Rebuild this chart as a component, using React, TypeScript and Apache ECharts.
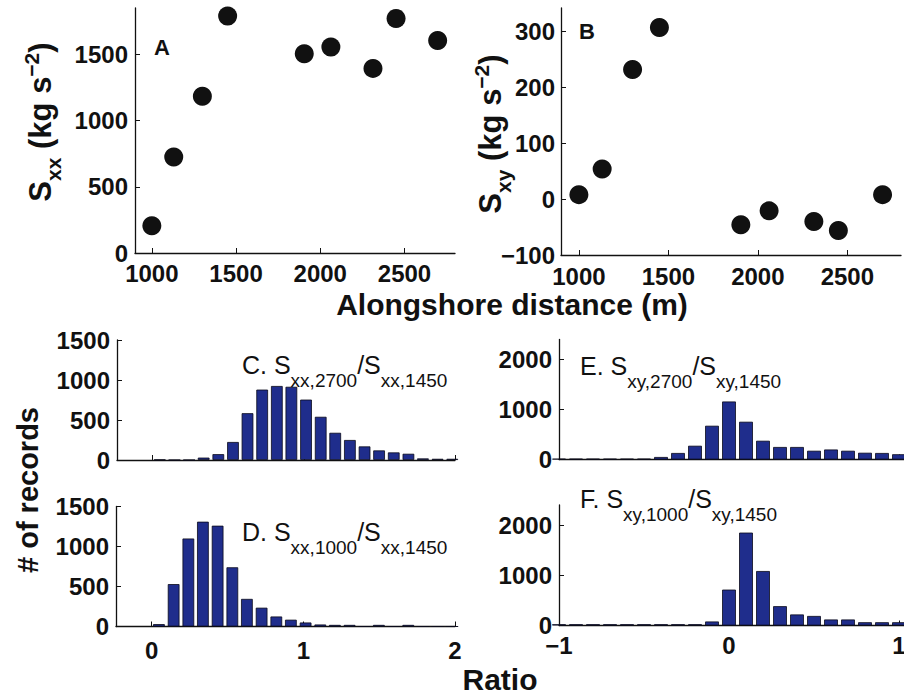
import React, { useEffect, useRef } from 'react';
import * as echarts from 'echarts';

// ---- data ----
const distance = [1000, 1130, 1300, 1450, 1905, 2063, 2313, 2450, 2697];
const sxx = [205, 725, 1184, 1790, 1505, 1555, 1394, 1770, 1604];
const sxy = [8, 54, 232, 307, -46, -21, -40, -56, 8];

const binsPositive = [0.048, 0.145, 0.242, 0.338, 0.435, 0.532, 0.628, 0.725, 0.822, 0.918, 1.015, 1.112, 1.208, 1.305, 1.402, 1.498, 1.595, 1.692, 1.788, 1.885, 1.982];
const countsC = [5, 0, 0, 30, 73, 225, 585, 880, 925, 915, 755, 540, 340, 250, 170, 120, 95, 78, 20, 15, 15];
const countsD = [30, 530, 1100, 1310, 1260, 740, 345, 235, 125, 85, 50, 25, 20, 20, 0, 20, 0, 20, 0, 0, 0];

const binsSigned = [-1.0, -0.9, -0.8, -0.7, -0.6, -0.5, -0.4, -0.3, -0.2, -0.1, 0.0, 0.1, 0.2, 0.3, 0.4, 0.5, 0.6, 0.7, 0.8, 0.9, 1.0];
const countsE = [15, 15, 15, 15, 15, 15, 50, 130, 275, 675, 1160, 755, 375, 250, 250, 175, 200, 175, 135, 130, 105];
const countsF = [25, 25, 25, 25, 25, 25, 25, 25, 25, 80, 715, 1850, 1085, 385, 220, 190, 120, 120, 65, 65, 65];

const xTicksDistance = [1000, 1500, 2000, 2500];
const yTicksSxx = [0, 500, 1000, 1500];
const yTicksSxy = [-100, 0, 100, 200, 300];
const yTicksHistLeft = [0, 500, 1000, 1500];
const yTicksHistRight = [0, 1000, 2000];
const xTicksRatioPos = [0, 1, 2];
const xTicksRatioSigned = [-1, 0, 1];

// ---- styling ----
const FONT = "'Liberation Sans', Arial, Helvetica, sans-serif";
const INK = '#111';
const BAR = '#1f2d8c';

function fmt(v: number) {
  return v < 0 ? '\u2212' + Math.abs(v) : String(v);
}

function axis(gridIndex: number, min: number, max: number, ticks: number[], showLabels: boolean, margin: number) {
  return {
    type: 'value',
    gridIndex,
    min,
    max,
    axisLine: { show: true, onZero: false, lineStyle: { color: INK, width: 1.3 } },
    axisTick: { show: true, inside: true, length: 5, customValues: ticks, lineStyle: { color: INK, width: 1 } },
    axisLabel: {
      show: showLabels,
      customValues: ticks,
      margin,
      color: INK,
      fontFamily: FONT,
      fontSize: 24,
      fontWeight: 'bold',
      formatter: (v: number) => fmt(v),
    },
    splitLine: { show: false },
  };
}

function grid(left: number, top: number, width: number, height: number) {
  return { left, top, width, height, containLabel: false, outerBoundsMode: 'none' };
}

function yLabel(x: number, y: number, sub: string) {
  return {
    type: 'text',
    x,
    y,
    rotation: Math.PI / 2,
    style: {
      text: `{m|S}{s|${sub}}{m| (kg s}{p|\u22122}{m|)}`,
      align: 'center',
      verticalAlign: 'middle',
      fill: INK,
      rich: {
        m: { fontFamily: FONT, fontSize: 31, fontWeight: 'bold', lineHeight: 34, padding: [10, 0, 0, 0], verticalAlign: 'top', fill: INK },
        s: { fontFamily: FONT, fontSize: 21, fontWeight: 'bold', lineHeight: 22, padding: [28, 0, 0, 0], verticalAlign: 'top', fill: INK },
        p: { fontFamily: FONT, fontSize: 21, fontWeight: 'bold', lineHeight: 22, padding: [6, 0, 0, 0], verticalAlign: 'top', fill: INK },
      },
    },
  };
}

function histTitle(x: number, y: number, letter: string, sub1: string, sub2: string) {
  return {
    type: 'text',
    x,
    y,
    style: {
      text: `{m|${letter}. S}{s|${sub1}}{m|/S}{s|${sub2}}`,
      align: 'left',
      verticalAlign: 'top',
      fill: INK,
      rich: {
        m: { fontFamily: FONT, fontSize: 25, lineHeight: 28, verticalAlign: 'top', fill: INK },
        s: { fontFamily: FONT, fontSize: 19, lineHeight: 20, padding: [19, 0, 0, 0], verticalAlign: 'top', fill: INK },
      },
    },
  };
}

function plainText(x: number, y: number, text: string, size: number, rotation = 0) {
  return {
    type: 'text',
    x,
    y,
    rotation,
    style: {
      text,
      align: 'center',
      verticalAlign: 'middle',
      fill: INK,
      fontFamily: FONT,
      fontSize: size,
      fontWeight: 'bold',
    },
  };
}

function barSeries(idx: number, bins: number[], counts: number[], width: number) {
  return {
    type: 'bar',
    xAxisIndex: idx,
    yAxisIndex: idx,
    data: bins.map((b, i) => [b, counts[i]]),
    barWidth: width,
    clip: true,
    itemStyle: { color: BAR, borderColor: '#0a0a1a', borderWidth: 0.8, opacity: 1 },
    silent: true,
  };
}

const option = {
  animation: false,
  backgroundColor: '#ffffff',
  grid: [
    grid(135, 8, 320, 245), // A
    grid(561, 8, 340, 247), // B
    grid(117, 340, 338, 120), // C
    grid(116, 506.5, 339, 120), // D
    grid(559, 339.5, 357, 120), // E
    grid(559, 505, 357, 120.5), // F
  ],
  xAxis: [
    axis(0, 900, 2800, xTicksDistance, true, 8),
    axis(1, 900, 2800, xTicksDistance, true, 9),
    axis(2, -0.235, 2, xTicksRatioPos, false, 12),
    axis(3, -0.235, 2, xTicksRatioPos, true, 12),
    axis(4, -1, 1.1, xTicksRatioSigned, false, 8),
    axis(5, -1, 1.1, xTicksRatioSigned, true, 8),
  ],
  yAxis: [
    axis(0, 0, 1850, yTicksSxx, true, 7),
    axis(1, -100, 342, yTicksSxy, true, 6),
    axis(2, 0, 1500, yTicksHistLeft, true, 7),
    axis(3, 0, 1500, yTicksHistLeft, true, 7),
    axis(4, 0, 2400, yTicksHistRight, true, 7),
    axis(5, 0, 2400, yTicksHistRight, true, 7),
  ],
  series: [
    {
      type: 'scatter',
      xAxisIndex: 0,
      yAxisIndex: 0,
      data: distance.map((d, i) => [d, sxx[i]]),
      symbolSize: 19,
      itemStyle: { color: INK, opacity: 1 },
      silent: true,
    },
    {
      type: 'scatter',
      xAxisIndex: 1,
      yAxisIndex: 1,
      data: distance.map((d, i) => [d, sxy[i]]),
      symbolSize: 19,
      itemStyle: { color: INK, opacity: 1 },
      silent: true,
    },
    barSeries(2, binsPositive, countsC, 11.7),
    barSeries(3, binsPositive, countsD, 11.7),
    barSeries(4, binsSigned, countsE, 13.8),
    barSeries(5, binsSigned, countsF, 13.8),
  ],
  graphic: [
    plainText(162, 47, 'A', 22),
    plainText(587, 31, 'B', 22),
    yLabel(32, 122, 'xx'),
    yLabel(482, 134, 'xy'),
    plainText(512, 304, 'Alongshore distance (m)', 30),
    plainText(28, 490, '# of records', 29, Math.PI / 2),
    plainText(500, 679, 'Ratio', 30),
    histTitle(242, 352, 'C', 'xx,2700', 'xx,1450'),
    histTitle(242, 519, 'D', 'xx,1000', 'xx,1450'),
    histTitle(580, 353, 'E', 'xy,2700', 'xy,1450'),
    histTitle(580, 486, 'F', 'xy,1000', 'xy,1450'),
  ],
};

export default function App() {
  const ref = useRef<HTMLDivElement>(null);
  useEffect(() => {
    if (!ref.current) return;
    const chart = echarts.init(ref.current, null, { renderer: 'svg' });
    chart.setOption(option as any);
    return () => chart.dispose();
  }, []);
  return (
    <div
      ref={ref}
      style={{ position: 'absolute', left: 0, top: 0, width: 904, height: 694, background: '#fff' }}
    />
  );
}
